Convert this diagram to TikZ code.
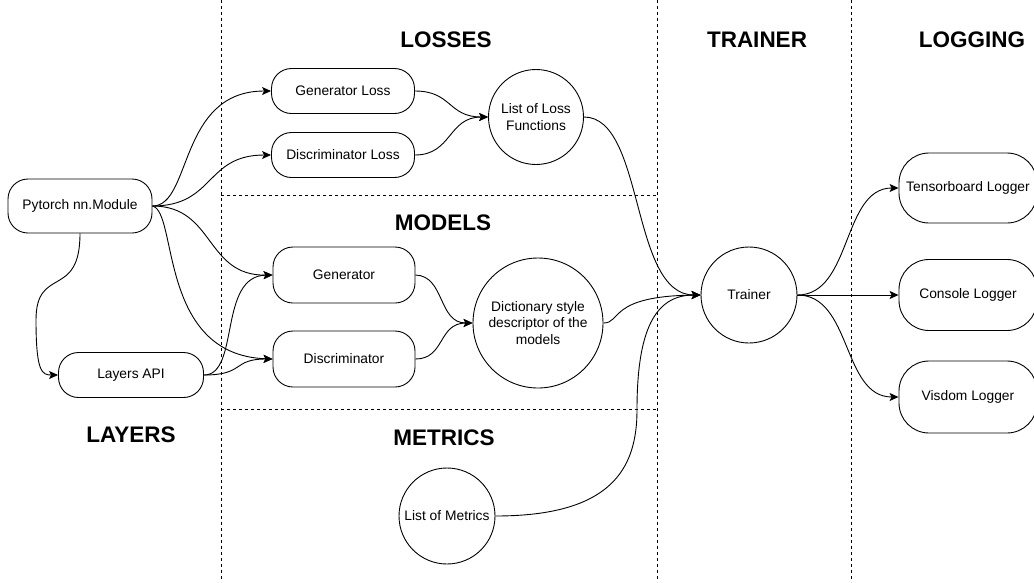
\documentclass[tikz,border=0pt]{standalone}
\usepackage{fontspec}
\setmainfont{Liberation Sans}
\usetikzlibrary{arrows.meta}
\begin{document}
\begin{tikzpicture}[x=1pt,y=-1pt,line width=0.9pt,
  bodyfont/.style={font=\fontsize{13.8}{16.5}\selectfont},
  pill/.style={draw, bodyfont, rounded corners=20pt, align=center, inner sep=0pt},
  circ/.style={draw, circle, bodyfont, align=center, inner sep=0pt},
  head/.style={font=\fontsize{22.5}{26}\selectfont\bfseries},
  sep/.style={dash pattern=on 3pt off 3pt, line width=0.8pt},
  conn/.style={-{Stealth[length=9pt,width=8pt,inset=2pt]}, line width=0.9pt}]
\useasboundingbox (0,0) rectangle (1034,582);
% separators
\draw[sep] (221,0) -- (221,582);
\draw[sep] (657,0) -- (657,582);
\draw[sep] (851,0) -- (851,582);
\draw[sep] (221,195) -- (657,195);
\draw[sep] (221,409) -- (657,409);
% headings
\node[head] (hlos) at (446,40) {LOSSES};
\node[head] (htra) at (757,40) {TRAINER};
\node[head] (hlog) at (972,40) {LOGGING};
\node[head] (hmod) at (443,223) {MODELS};
\node[head] (hmet) at (444,438) {METRICS};
\node[head] (hlay) at (131,435) {LAYERS};
% nodes
\node[pill, minimum width=144pt, minimum height=54pt] (pt) at (80,206) {Pytorch nn.Module};
\node[pill, minimum width=145pt, minimum height=45pt] (lay) at (131,375) {Layers API};
\node[pill, minimum width=143pt, minimum height=45pt] (gl) at (343,91) {Generator Loss};
\node[pill, minimum width=143pt, minimum height=45pt] (dl) at (343,155) {Discriminator Loss};
\node[circ, minimum size=95pt] (ll) at (536,117) {List of Loss\\Functions};
\node[pill, minimum width=142pt, minimum height=56pt] (gen) at (344,275) {Generator};
\node[pill, minimum width=142pt, minimum height=56pt] (dis) at (344,359) {Discriminator};
\node[circ, minimum size=130pt] (dict) at (538,323) {Dictionary style\\descriptor of the\\models};
\node[circ, minimum size=96pt] (met) at (447,516) {List of Metrics};
\node[circ, minimum size=96pt] (tr) at (749,295) {Trainer};
\node[pill, rounded corners=30pt, minimum width=138pt, minimum height=70pt] (tb) at (968,188) {Tensorboard Logger};
\node[pill, rounded corners=30pt, minimum width=138pt, minimum height=71pt] (con) at (968,295) {Console Logger};
\node[pill, rounded corners=30pt, minimum width=138pt, minimum height=72pt] (vis) at (968,397) {Visdom Logger};
% connectors
\draw[conn] (pt.east) .. controls (192,206) and (178,91) .. (gl.west);
\draw[conn] (pt.east) .. controls (215,206) and (205,155) .. (dl.west);
\draw[conn] (pt.east) .. controls (215,206) and (205,276) .. (gen.west);
\draw[conn] (pt.east) .. controls (178,212) and (158,355) .. (dis.west);
\draw[conn] (pt.south) .. controls (80,300) and (36,265) .. (36,320) .. controls (36,372) and (42,375) .. (lay.west);
\draw[conn] (lay.east) .. controls (240,375) and (218,276) .. (gen.west);
\draw[conn] (lay.east) .. controls (245,375) and (232,359) .. (dis.west);
\draw[conn] (gl.east) .. controls (452,91) and (448,117) .. (ll.west);
\draw[conn] (dl.east) .. controls (452,155) and (448,117) .. (ll.west);
\draw[conn] (gen.east) .. controls (445,276) and (438,323) .. (dict.west);
\draw[conn] (dis.east) .. controls (445,359) and (438,323) .. (dict.west);
\draw[conn] (ll.east) .. controls (645,117) and (630,295) .. (tr.west);
\draw[conn] (dict.east) .. controls (622,323) and (608,296) .. (tr.west);
\draw[conn] (met.east) .. controls (610,516) and (637,470) .. (637,410) .. controls (637,330) and (655,295) .. (tr.west);
\draw[conn] (tr.east) .. controls (852,295) and (842,188) .. (tb.west);
\draw[conn] (tr.east) -- (con.west);
\draw[conn] (tr.east) .. controls (852,295) and (842,397) .. (vis.west);
\end{tikzpicture}
\end{document}
